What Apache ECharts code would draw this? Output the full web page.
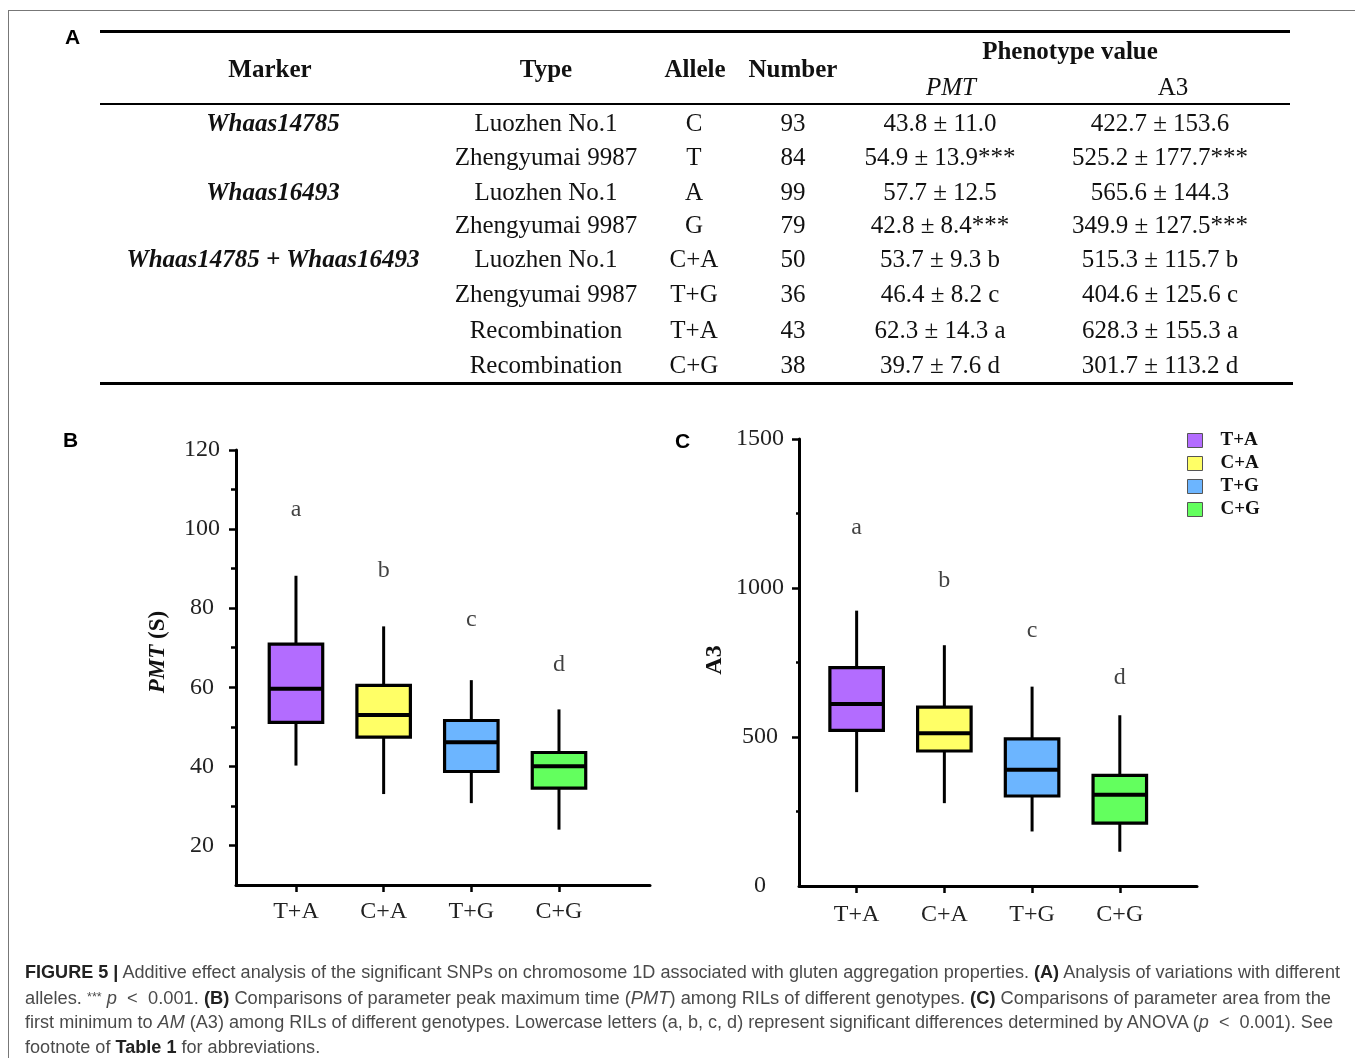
<!DOCTYPE html>
<html><head><meta charset="utf-8">
<script src="https://cdn.jsdelivr.net/npm/echarts@6/dist/echarts.min.js"></script>
<style>
html,body{margin:0;padding:0;background:#fff;}
#wrap{position:relative;width:1355px;height:1058px;overflow:hidden;background:#fff;}
#chart{position:absolute;left:0;top:0;width:1355px;height:1058px;}
.cell{position:absolute;white-space:nowrap;font-family:'Liberation Serif','Times New Roman',serif;font-size:25px;color:#111;text-align:center;width:500px;height:30px;line-height:30px;}
.rule{position:absolute;background:#000;}
.plabel{position:absolute;font-family:'Liberation Sans',Arial,sans-serif;font-weight:bold;font-size:21px;color:#000;line-height:22px;}
.aname{position:absolute;white-space:nowrap;font-family:'Liberation Serif','Times New Roman',serif;font-weight:bold;color:#111;width:200px;height:30px;line-height:30px;text-align:center;transform:rotate(-90deg);}
.cap{position:absolute;left:25px;white-space:nowrap;font-family:'Liberation Sans Narrow','Liberation Sans',Arial,sans-serif;font-size:17.5px;color:#4a4a4a;line-height:22px;transform-origin:0 50%;}
.cap b{color:#222;}
.frame{position:absolute;background:#777;}
</style>
</head><body>
<div id="wrap">
  <div id="chart"></div>
</div>
<script>
// ---------------- DATA ----------------
const categories = ['T+A', 'C+A', 'T+G', 'C+G'];
// [min, Q1, median, Q3, max]
const pmtBoxes = [
  [40.2, 51.1, 59.6, 70.9, 88.2],
  [33.0, 47.4, 53.0, 60.5, 75.4],
  [30.7, 38.7, 46.1, 51.6, 61.8],
  [24.0, 34.5, 40.0, 43.5, 54.4]
];
const a3Boxes = [
  [315, 522, 611, 733, 924],
  [278, 453, 513, 600, 808],
  [183, 302, 390, 494, 669],
  [115, 211, 306, 371, 573]
];
const sigLetters = ['a', 'b', 'c', 'd'];
const pmtLetterValues = [104.8, 89.6, 77.0, 65.8];
const a3LetterValues = [1201, 1024, 857, 700];
const pmtTickLabels = [20, 40, 60, 80, 100, 120];
const pmtMinorTicks = [30, 50, 70, 90, 110];
const a3TickLabels = [0, 500, 1000, 1500];
const a3MajorTicks = [500, 1000, 1500];
const a3MinorTicks = [250, 750, 1250];

// table
const tableMarkers = ['Whaas14785', '', 'Whaas16493', '', 'Whaas14785 + Whaas16493', '', '', ''];
const tableTypes = ['Luozhen No.1', 'Zhengyumai 9987', 'Luozhen No.1', 'Zhengyumai 9987', 'Luozhen No.1', 'Zhengyumai 9987', 'Recombination', 'Recombination'];
const tableAlleles = ['C', 'T', 'A', 'G', 'C+A', 'T+G', 'T+A', 'C+G'];
const tableNumbers = ['93', '84', '99', '79', '50', '36', '43', '38'];
const tablePMT = ['43.8 ± 11.0', '54.9 ± 13.9***', '57.7 ± 12.5', '42.8 ± 8.4***', '53.7 ± 9.3 b', '46.4 ± 8.2 c', '62.3 ± 14.3 a', '39.7 ± 7.6 d'];
const tableA3 = ['422.7 ± 153.6', '525.2 ± 177.7***', '565.6 ± 144.3', '349.9 ± 127.5***', '515.3 ± 115.7 b', '404.6 ± 125.6 c', '628.3 ± 155.3 a', '301.7 ± 113.2 d'];

// caption
const captionLines = [
  '<b>FIGURE 5 |</b> Additive effect analysis of the significant SNPs on chromosome 1D associated with gluten aggregation properties. <b>(A)</b> Analysis of variations with different',
  'alleles. <span style="font-size:12px;vertical-align:3px">***</span> <i>p</i> &nbsp;&lt;&nbsp; 0.001. <b>(B)</b> Comparisons of parameter peak maximum time (<i>PMT</i>) among RILs of different genotypes. <b>(C)</b> Comparisons of parameter area from the',
  'first minimum to <i>AM</i> (A3) among RILs of different genotypes. Lowercase letters (a, b, c, d) represent significant differences determined by ANOVA (<i>p</i> &nbsp;&lt;&nbsp; 0.001). See',
  'footnote of <b>Table 1</b> for abbreviations.'
];

// ---------------- LAYOUT (HTML parts) ----------------
const wrap = document.getElementById('wrap');
function add(cls, html, css) {
  const d = document.createElement('div');
  d.className = cls;
  d.innerHTML = html;
  Object.assign(d.style, css || {});
  wrap.appendChild(d);
  return d;
}
// frame
add('frame', '', {left: '8px', top: '10px', width: '1347px', height: '1px'});
add('frame', '', {left: '8px', top: '10px', width: '1px', height: '1048px'});

// panel letters
add('plabel', 'A', {left: '65px', top: '26px'});
add('plabel', 'B', {left: '63px', top: '429px'});
add('plabel', 'C', {left: '675px', top: '430px'});

// table rules
add('rule', '', {left: '100px', top: '30px', width: '1190px', height: '3px'});
add('rule', '', {left: '100px', top: '103px', width: '1190px', height: '1.5px'});
add('rule', '', {left: '100px', top: '381.5px', width: '1193px', height: '3px'});

function cell(text, cx, cy, css) {
  add('cell', text, Object.assign({left: (cx - 250) + 'px', top: (cy - 15) + 'px'}, css || {}));
}
// header
cell('Marker', 270, 69, {fontWeight: 'bold'});
cell('Type', 546, 69, {fontWeight: 'bold'});
cell('Allele', 695, 69, {fontWeight: 'bold'});
cell('Number', 793, 69, {fontWeight: 'bold'});
cell('Phenotype value', 1070, 51, {fontWeight: 'bold'});
cell('PMT', 951, 87, {fontStyle: 'italic'});
cell('A3', 1173, 87);
const rowY = [123, 157, 192, 225, 259, 294, 330, 365];
const colX = {marker: 273, type: 546, allele: 694, number: 793, pmt: 940, a3: 1160};
rowY.forEach((y, i) => {
  if (tableMarkers[i]) cell(tableMarkers[i], colX.marker, y, {fontWeight: 'bold', fontStyle: 'italic'});
  cell(tableTypes[i], colX.type, y);
  cell(tableAlleles[i], colX.allele, y);
  cell(tableNumbers[i], colX.number, y);
  cell(tablePMT[i], colX.pmt, y);
  cell(tableA3[i], colX.a3, y);
});

// axis names
add('aname', '<i>PMT</i> (S)', {left: (157 - 100) + 'px', top: (652 - 15) + 'px', fontSize: '23px'});
add('aname', 'A3', {left: (713 - 100) + 'px', top: (660 - 15) + 'px', fontSize: '24px'});

// caption
const capY = [972, 997, 1022, 1047];
const capEnd = [1340, 1331, 1333, null];
let lastScale = 1;
captionLines.forEach((html, i) => {
  const d = add('cap', html, {top: (capY[i] - 11) + 'px'});
  const w = d.getBoundingClientRect().width;
  let s = capEnd[i] ? (capEnd[i] - 25) / w : lastScale;
  lastScale = s;
  d.style.transform = 'scaleX(' + s + ')';
});

// ---------------- CHART ----------------
const BOX_W = 0.61;
const boxColors = ['#b36cff', '#ffff66', '#6cb5ff', '#63ff5e'];
const serif = "'Liberation Serif','Times New Roman',serif";

function renderBox(params, api) {
  const x = api.value(0);
  const lo = api.coord([x, api.value(1)]);
  const q1 = api.coord([x, api.value(2)]);
  const md = api.coord([x, api.value(3)]);
  const q3 = api.coord([x, api.value(4)]);
  const hi = api.coord([x, api.value(5)]);
  const w = api.size([BOX_W, 0])[0];
  const cx = q1[0];
  const color = api.visual('color');
  return {
    type: 'group',
    children: [
      {type: 'line', shape: {x1: cx, y1: hi[1], x2: cx, y2: q3[1]}, style: {stroke: '#000', lineWidth: 3}},
      {type: 'line', shape: {x1: cx, y1: q1[1], x2: cx, y2: lo[1]}, style: {stroke: '#000', lineWidth: 3}},
      {type: 'rect', shape: {x: cx - w / 2, y: q3[1], width: w, height: q1[1] - q3[1]}, style: {fill: color, stroke: '#000', lineWidth: 3.2}},
      {type: 'line', shape: {x1: cx - w / 2, y1: md[1], x2: cx + w / 2, y2: md[1]}, style: {stroke: '#000', lineWidth: 4}}
    ]
  };
}

function xAxisDef(gridIndex, min, max, margin) {
  return {
    type: 'value', gridIndex, min, max,
    axisLine: {onZero: false, lineStyle: {color: '#000', width: 3}},
    axisTick: {customValues: [1, 2, 3, 4], length: 7, lineStyle: {color: '#000', width: 2.5}},
    axisLabel: {customValues: [1, 2, 3, 4], formatter: v => categories[Math.round(v) - 1], margin,
      fontFamily: serif, fontSize: 24, color: '#222'},
    splitLine: {show: false}
  };
}
function yAxisDef(gridIndex, min, max, labels, ticks, margin) {
  return {
    type: 'value', gridIndex, min, max, position: 'left',
    axisLine: {show: true, onZero: false, lineStyle: {color: '#000', width: 3}},
    axisTick: {show: true, customValues: ticks, length: 7, lineStyle: {color: '#000', width: 2.5}},
    axisLabel: {customValues: labels, formatter: v => String(v), align: 'center', margin,
      fontFamily: serif, fontSize: 24, color: '#222'},
    splitLine: {show: false}
  };
}
function yMinorDef(gridIndex, min, max, ticks, len) {
  return {
    type: 'value', gridIndex, min, max, position: 'left',
    axisLine: {show: false, onZero: false},
    axisTick: {show: true, customValues: ticks, length: len, lineStyle: {color: '#000', width: 2.5}},
    axisLabel: {show: false},
    splitLine: {show: false}
  };
}

const series = [];
categories.forEach((c, i) => {
  series.push({
    type: 'custom', name: c, xAxisIndex: 0, yAxisIndex: 0,
    itemStyle: {color: boxColors[i]},
    encode: {x: 0, y: [1, 2, 3, 4, 5]},
    renderItem: renderBox,
    data: [[i + 1].concat(pmtBoxes[i])]
  });
});
categories.forEach((c, i) => {
  series.push({
    type: 'custom', name: c, xAxisIndex: 1, yAxisIndex: 2,
    itemStyle: {color: boxColors[i]},
    encode: {x: 0, y: [1, 2, 3, 4, 5]},
    renderItem: renderBox,
    data: [[i + 1].concat(a3Boxes[i])]
  });
});
const letterLabel = {show: true, position: 'inside', formatter: p => p.name, fontFamily: serif, fontSize: 24, color: '#111'};
series.push({
  type: 'scatter', xAxisIndex: 0, yAxisIndex: 0, symbolSize: 1, itemStyle: {color: 'rgba(0,0,0,0)'},
  label: letterLabel, silent: true,
  data: sigLetters.map((l, i) => ({name: l, value: [i + 1, pmtLetterValues[i]]}))
});
series.push({
  type: 'scatter', xAxisIndex: 1, yAxisIndex: 2, symbolSize: 1, itemStyle: {color: 'rgba(0,0,0,0)'},
  label: letterLabel, silent: true,
  data: sigLetters.map((l, i) => ({name: l, value: [i + 1, a3LetterValues[i]]}))
});

const chart = echarts.init(document.getElementById('chart'), null, {renderer: 'canvas'});
chart.setOption({
  animation: false,
  backgroundColor: 'transparent',
  grid: [
    {left: 236, top: 450, width: 414, height: 435},
    {left: 799, top: 439, width: 398, height: 447}
  ],
  xAxis: [
    xAxisDef(0, 0.316, 5.038, 15),
    xAxisDef(1, 0.343, 4.88, 17)
  ],
  yAxis: [
    yAxisDef(0, 10, 120, pmtTickLabels, pmtTickLabels, 34),
    yMinorDef(0, 10, 120, pmtMinorTicks, 5),
    yAxisDef(1, 0, 1500, a3TickLabels, a3MajorTicks, 39),
    yMinorDef(1, 0, 1500, a3MinorTicks, 3)
  ],
  legend: {
    data: categories, orient: 'vertical', left: 1187, top: 431, padding: 0,
    itemWidth: 15, itemHeight: 14, itemGap: 4, icon: 'rect',
    itemStyle: {borderColor: '#555', borderWidth: 1},
    textStyle: {fontFamily: serif, fontWeight: 'bold', fontSize: 19, lineHeight: 14, color: '#111', padding: [0, 0, 0, 13]},
    selectedMode: false
  },
  series
});
</script>
</body></html>
